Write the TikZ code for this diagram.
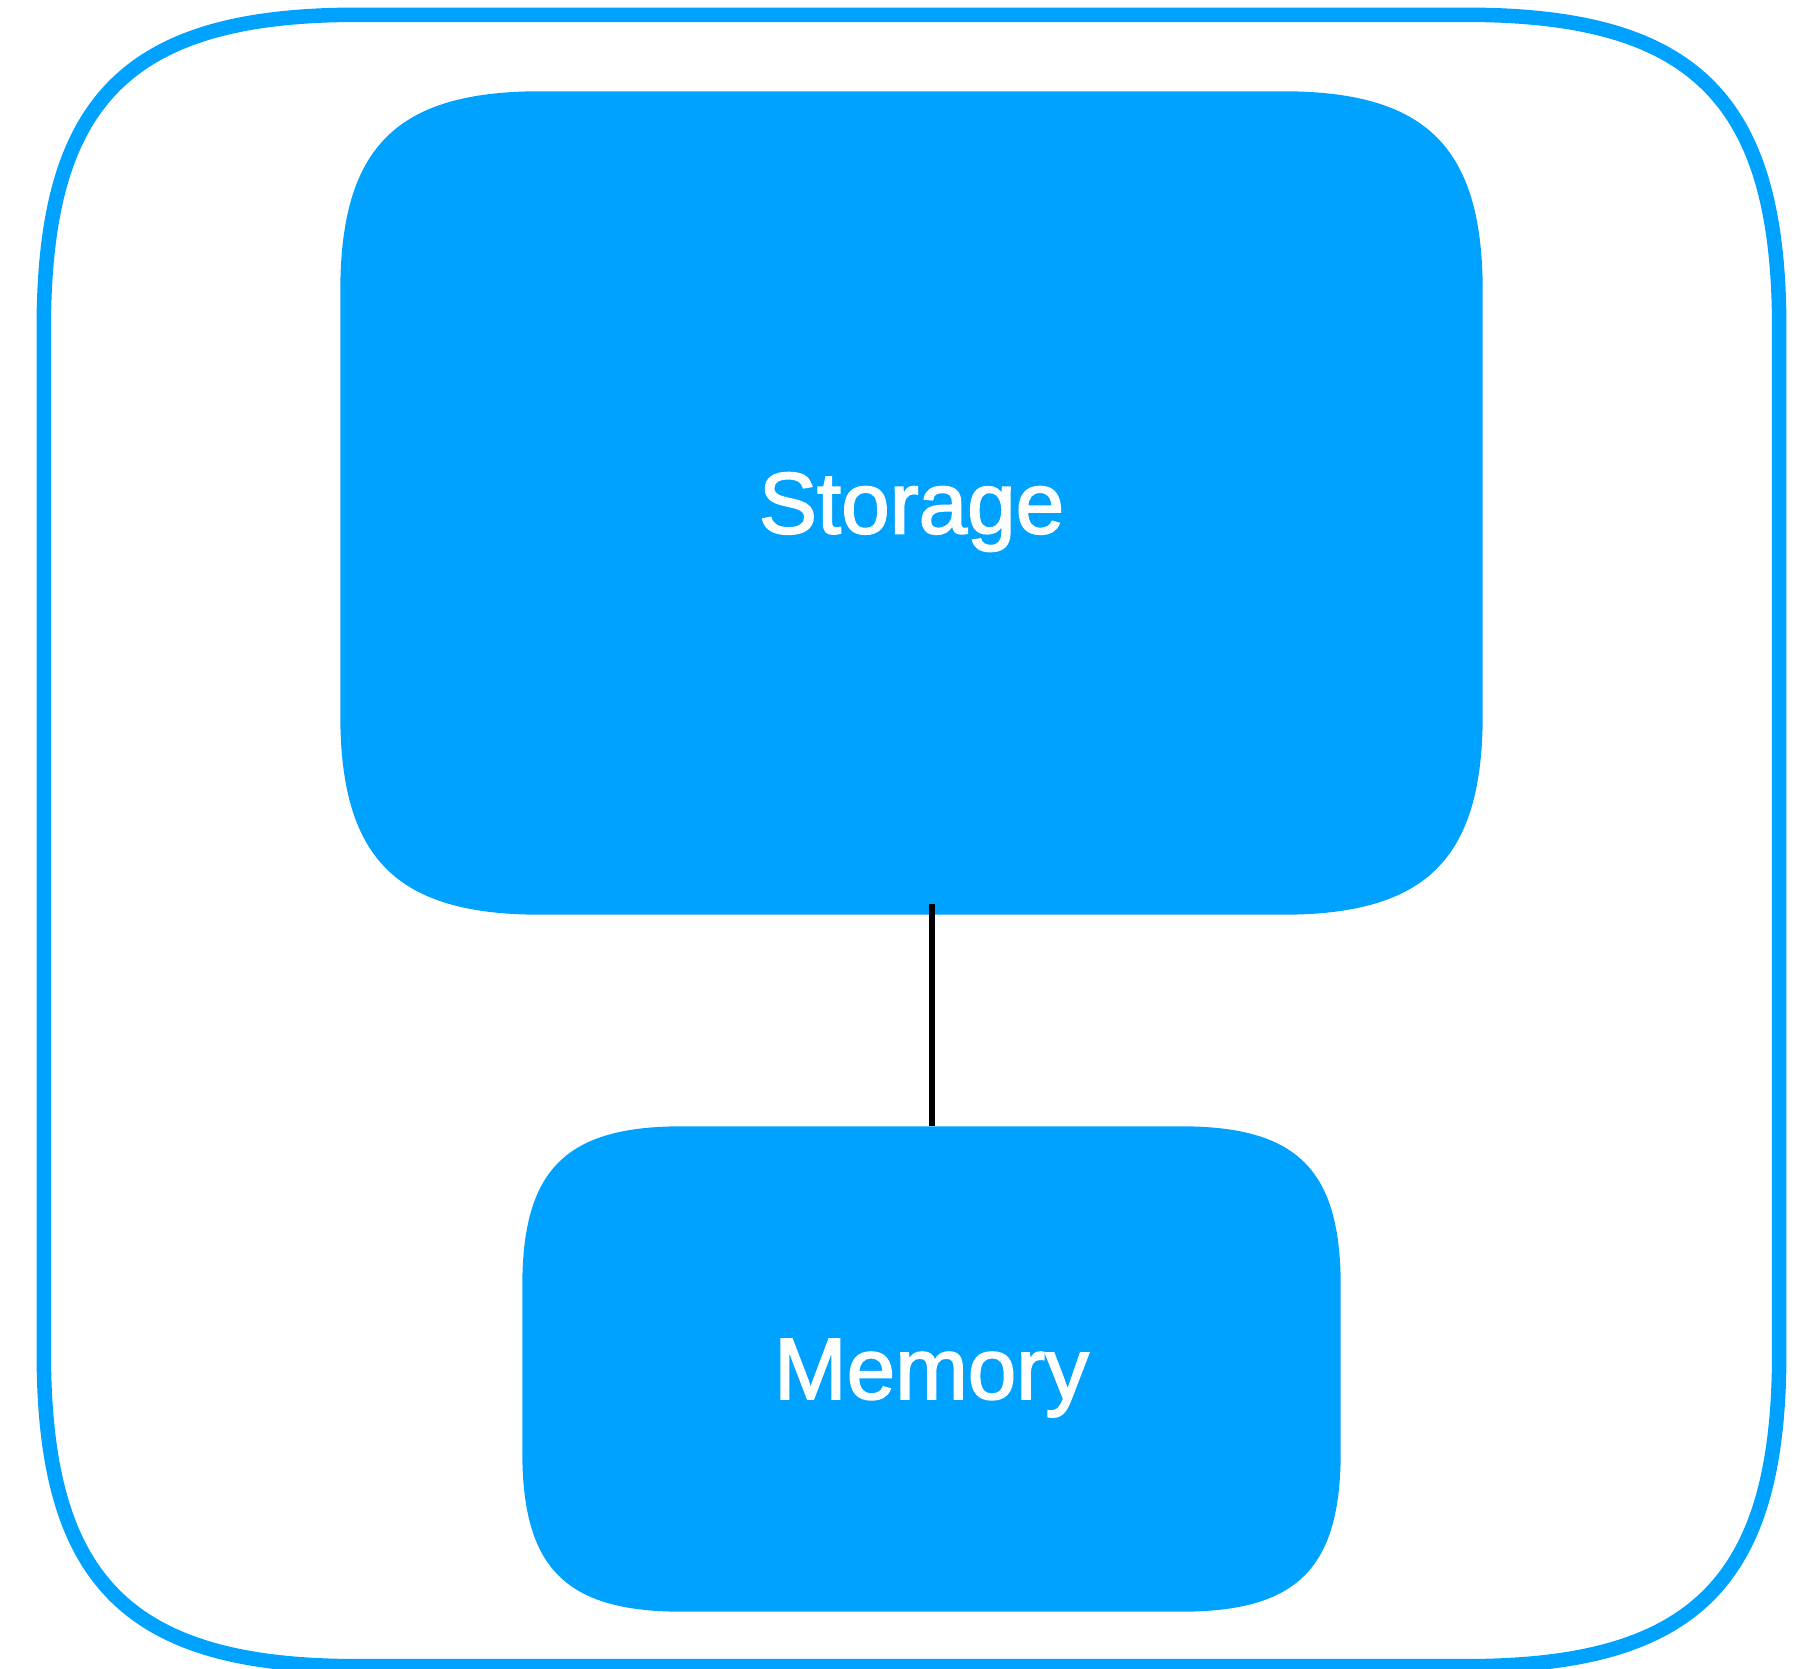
\documentclass[tikz,border=0pt]{standalone}
\usepackage{fontspec}
\setmainfont{Liberation Sans}
\newfontfamily\labelfont[FakeBold=2]{Liberation Sans}
\usetikzlibrary{calc,backgrounds}
\definecolor{sky}{RGB}{0,162,255}

% Rounded box outline with soft (continuous) corners around a node.
% #1 node name, #2 corner extent (cm), #3 control factor
\newcommand\softpath[3]{%
  ($(#1.north west)+(0,-#2)$) .. controls +(0,{(1-#3)*#2}) and +({-(1-#3)*#2},0) .. ($(#1.north west)+(#2,0)$)
  -- ($(#1.north east)+(-#2,0)$) .. controls +({(1-#3)*#2},0) and +(0,{(1-#3)*#2}) .. ($(#1.north east)+(0,-#2)$)
  -- ($(#1.south east)+(0,#2)$) .. controls +(0,{-(1-#3)*#2}) and +({(1-#3)*#2},0) .. ($(#1.south east)+(-#2,0)$)
  -- ($(#1.south west)+(#2,0)$) .. controls +({-(1-#3)*#2},0) and +(0,{-(1-#3)*#2}) .. ($(#1.south west)+(0,#2)$)
  -- cycle}

\tikzset{
  block/.style={inner sep=0pt, text=white, text depth=0pt,
    font=\labelfont\fontsize{24.8pt}{30pt}\selectfont},
  blockfill/.style={fill=sky, draw=none},
  framebox/.style={inner sep=0pt},
  frameline/.style={draw=sky, line width=0.145cm},
  link/.style={draw=black, line width=0.06cm}
}

\begin{document}
\begin{tikzpicture}
  \useasboundingbox (0,0) rectangle (17.99,16.68);

  % outer container
  \node[framebox, minimum width=17.34cm, minimum height=16.50cm] (frame) at (9.115,8.275) {};
  \path[frameline] \softpath{frame}{3.13}{0.27};

  % components
  \node[block, minimum width=11.41cm, minimum height=8.22cm] (st) at (9.115,11.65) {Storage};
  \node[block, minimum width=8.17cm, minimum height=4.84cm] (mem) at (9.315,2.99) {Memory};

  \begin{pgfonlayer}{background}
    \path[blockfill] \softpath{st}{2.0}{0.28};
    \path[blockfill] \softpath{mem}{1.6}{0.27};
  \end{pgfonlayer}

  % connection
  \draw[link] (mem.north) -- ([yshift=0.11cm]mem.north |- st.south);
\end{tikzpicture}
\end{document}
